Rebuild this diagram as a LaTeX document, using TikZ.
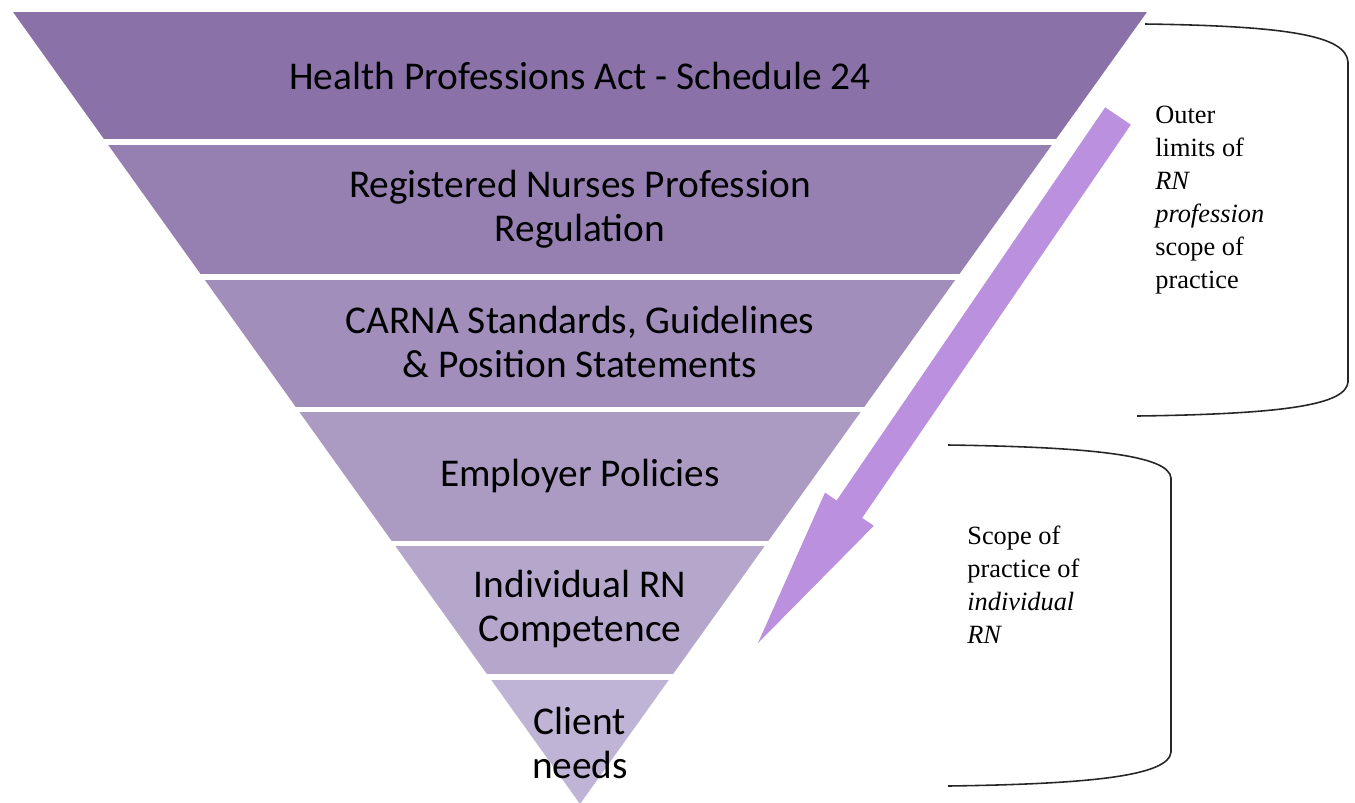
\documentclass[tikz,border=0pt]{standalone}
\usepackage{fontspec}
\setmainfont{Liberation Serif}
\newfontfamily\bandfont{Carlito}

\definecolor{bandA}{RGB}{138,114,168}
\definecolor{bandB}{RGB}{150,128,178}
\definecolor{bandC}{RGB}{161,142,187}
\definecolor{bandD}{RGB}{171,155,195}
\definecolor{bandE}{RGB}{181,167,204}
\definecolor{bandF}{RGB}{191,180,213}
\definecolor{arrowpurple}{RGB}{187,145,223}

\begin{document}
\begin{tikzpicture}[x=0.02cm,y=-0.02cm,
  bandtext/.style={align=center,font=\bandfont\fontsize{22.4}{25}\selectfont,text=black},
  sidetext/.style={align=left,anchor=north west,inner sep=0pt,font=\fontsize{15}{18.7}\selectfont},
  bracket/.style={draw=black!85,line width=0.9pt}]
\useasboundingbox (0,0) rectangle (1355,802);

% inverted pyramid, cut into bands
\begin{scope}
\clip (13,12) -- (1147,12) -- (580,804) -- cycle;
\foreach \ya/\yb/\col in {12/139/bandA,145/274/bandB,280/407/bandC,412/541/bandD,546/674/bandE,680/810/bandF}
  \fill[\col] (0,\ya) rectangle (1355,\yb);
\end{scope}

\node[bandtext] (act) at (580,76) {Health Professions Act - Schedule 24};
\node[bandtext] (regulation) at (580,209) {Registered Nurses Profession\\Regulation};
\node[bandtext] (standards) at (580,342) {CARNA Standards, Guidelines\\\& Position Statements};
\node[bandtext] (policies) at (580,476) {Employer Policies};
\node[bandtext] (competence) at (580,609) {Individual RN\\Competence};
\node[bandtext] (needs) at (580,743) {Client\\needs};

% big arrow down the right side
\fill[arrowpurple] (1105.2,107.3) -- (836.6,500.5) -- (825,492.6) -- (758,643)
  -- (873.8,525.8) -- (862.2,517.9) -- (1130.8,124.7) -- cycle;

% brackets and their notes
\draw[bracket] (1145,24) .. controls (1290,26) and (1346,36) .. (1348,62) -- (1348,382)
  .. controls (1346,404) and (1290,414) .. (1137,416);
\node[sidetext] (outer) at (1155,106) {Outer\\limits of\\\textit{RN}\\\textit{profession}\\scope of\\practice};

\draw[bracket] (948,445) .. controls (1090,447) and (1169,455) .. (1171,478) -- (1171,752)
  .. controls (1169,776) and (1090,784) .. (948,786);
\node[sidetext] (individual) at (967,526) {Scope of\\practice of\\\textit{individual}\\\textit{RN}};
\end{tikzpicture}
\end{document}
